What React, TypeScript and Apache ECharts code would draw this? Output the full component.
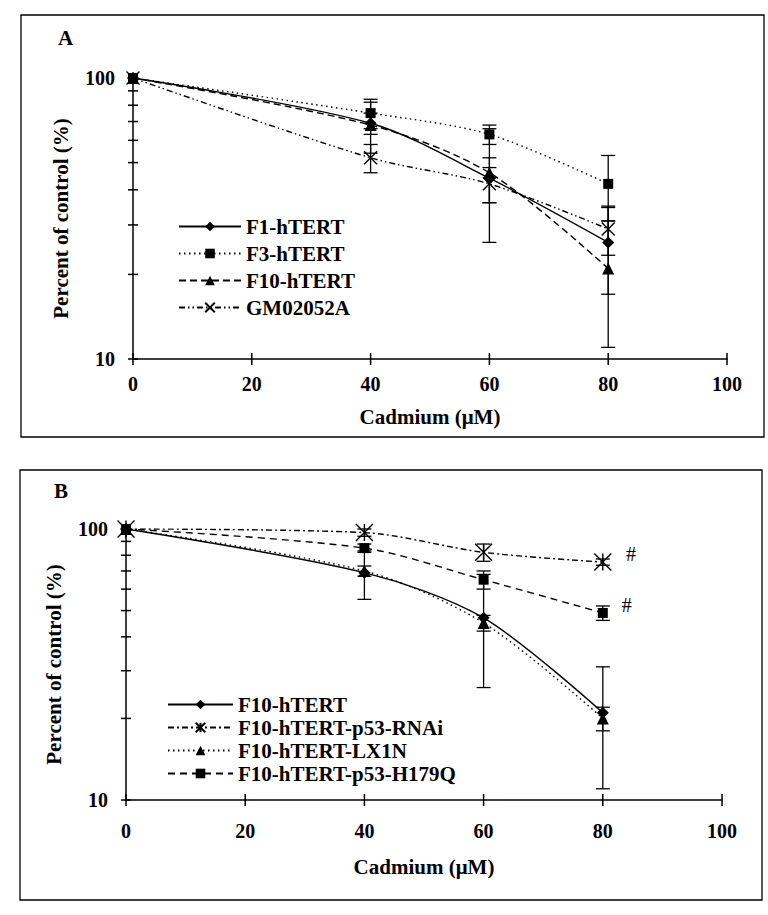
import React, { useEffect, useRef } from "react";
import * as echarts from "echarts";

const FONT = '"Liberation Serif", "Times New Roman", serif';

// Shared x positions (Cadmium, µM)
const doseX = [0, 40, 60, 80];
const xTicks = [0, 20, 40, 60, 80, 100];
const yTicks = [10, 20, 30, 40, 50, 60, 70, 80, 90, 100];

// Panel A
const namesA = ["F1-hTERT", "F3-hTERT", "F10-hTERT", "GM02052A"];
const f1A = [100, 69, 44, 26];
const f3A = [100, 75, 63, 42];
const f10A = [100, 68, 46, 21];
const gmA = [100, 52, 42, 29];
const errF1A = [0, 6, 8, 9];
const errF3A = [0, 9, 5, 11];
const errF10A = [0, 14, 20, 10];
const errGmA = [0, 6, 6, 5.6];

// Panel B
const namesB = ["F10-hTERT", "F10-hTERT-p53-RNAi", "F10-hTERT-LX1N", "F10-hTERT-p53-H179Q"];
const f10B = [100, 69, 47, 21];
const rnaiB = [100, 97, 82, 75.5];
const lx1nB = [100, 70, 45, 20];
const h179qB = [100, 85, 65, 49];
const errF10B = [0, 14, 21, 10];
const errRnaiB = [0, 3, 6, 2];
const errLx1nB = [0, 3, 3, 2];
const errH179qB = [0, 3, 5, 3];

const X_SYMBOL = "path://M0,0L10,10M10,0L0,10";
const STAR_SYMBOL = "path://M5,0L5,10M0,0L10,10M10,0L0,10";

const BLK = "#000";

function errRender(params: any, api: any) {
  const x = api.value(0);
  const y = api.value(1);
  const e = api.value(2);
  if (!e) return { type: "group", children: [] };
  const p1 = api.coord([x, y + e]);
  const p2 = api.coord([x, y - e]);
  const w = 7;
  const st = { stroke: BLK, lineWidth: 1.3 };
  return {
    type: "group",
    children: [
      { type: "line", shape: { x1: p1[0], y1: p1[1], x2: p2[0], y2: p2[1] }, style: st },
      { type: "line", shape: { x1: p1[0] - w, y1: p1[1], x2: p1[0] + w, y2: p1[1] }, style: st },
      { type: "line", shape: { x1: p2[0] - w, y1: p2[1], x2: p2[0] + w, y2: p2[1] }, style: st },
    ],
  };
}

function yTickRender(params: any, api: any) {
  const p = api.coord([0, api.value(1)]);
  return {
    type: "line",
    shape: { x1: p[0] - 5, y1: p[1], x2: p[0] + 5, y2: p[1] },
    style: { stroke: BLK, lineWidth: 1.5 },
  };
}

function xTickRender(params: any, api: any) {
  const p = api.coord([api.value(0), 10]);
  return {
    type: "line",
    shape: { x1: p[0], y1: p[1] - 6, x2: p[0], y2: p[1] + 6 },
    style: { stroke: BLK, lineWidth: 1.5 },
  };
}

function lineSeries(
  name: string,
  vals: number[],
  idx: number,
  symbol: string,
  symbolSize: number,
  dash: any,
  hashLast = false
) {
  return {
    type: "line",
    name,
    xAxisIndex: idx,
    yAxisIndex: idx,
    smooth: 0.3,
    symbol,
    symbolSize,
    z: 4,
    lineStyle: { color: BLK, width: 1.4, type: dash },
    itemStyle: { color: BLK, borderColor: BLK, borderWidth: symbol.startsWith("path") ? 1.4 : 0 },
    data: doseX.map((x, i) => {
      if (hashLast && i === doseX.length - 1) {
        return {
          value: [x, vals[i]],
          label: {
            show: true,
            formatter: "#",
            position: "right",
            distance: 14,
            offset: [0, -8],
            fontFamily: FONT,
            fontSize: 20,
            color: "#000000",
            textBorderWidth: 0,
          },
        };
      }
      return [x, vals[i]];
    }),
  };
}

function errSeries(vals: number[], errs: number[], idx: number) {
  return {
    type: "custom",
    xAxisIndex: idx,
    yAxisIndex: idx,
    z: 2,
    silent: true,
    renderItem: errRender,
    data: doseX.map((x, i) => [x, vals[i], errs[i]]),
  };
}

function tickSeries(idx: number) {
  return [
    {
      type: "custom",
      xAxisIndex: idx,
      yAxisIndex: idx,
      z: 1,
      silent: true,
      renderItem: yTickRender,
      data: yTicks.map((v) => [0, v]),
    },
    {
      type: "custom",
      xAxisIndex: idx,
      yAxisIndex: idx,
      z: 1,
      silent: true,
      renderItem: xTickRender,
      data: xTicks.map((v) => [v, 10]),
    },
  ];
}

const textBold = { fontFamily: FONT, fontWeight: "bold" as const, color: BLK };

function xAxisCfg(idx: number, labelMargin: number, nameGap: number) {
  return {
    type: "value",
    gridIndex: idx,
    min: 0,
    max: 100,
    interval: 20,
    axisLine: { show: true, lineStyle: { color: BLK, width: 1.5 } },
    axisTick: { show: false },
    splitLine: { show: false },
    axisLabel: { ...textBold, fontSize: 20, margin: labelMargin },
    name: "Cadmium (\u03bcM)",
    nameLocation: "middle",
    nameGap,
    nameTextStyle: { ...textBold, fontSize: 21 },
  };
}

function yAxisCfg(idx: number) {
  return {
    type: "log",
    logBase: 10,
    gridIndex: idx,
    min: 10,
    max: 100,
    axisLine: { show: true, lineStyle: { color: BLK, width: 1.5 } },
    axisTick: { show: false },
    minorTick: { show: false },
    splitLine: { show: false },
    minorSplitLine: { show: false },
    axisLabel: { ...textBold, fontSize: 20, margin: 18 },
    name: "Percent of control (%)",
    nameLocation: "middle",
    nameGap: 62,
    nameRotate: 90,
    nameTextStyle: { ...textBold, fontSize: 21 },
  };
}

export default function App() {
  const ref = useRef<HTMLDivElement>(null);
  useEffect(() => {
    if (!ref.current) return;
    const chart = echarts.init(ref.current, undefined, { renderer: "svg" });
    const option: any = {
      animation: false,
      backgroundColor: "#fff",
      grid: [
        { left: 133, top: 78, width: 594, height: 281, outerBoundsMode: "none", containLabel: false },
        { left: 126, top: 529, width: 596, height: 271, outerBoundsMode: "none", containLabel: false },
      ],
      xAxis: [xAxisCfg(0, 15, 47), xAxisCfg(1, 21, 56)],
      yAxis: [yAxisCfg(0), yAxisCfg(1)],
      legend: [
        {
          orient: "vertical",
          left: 178,
          top: 216,
          padding: 0,
          itemWidth: 62,
          itemHeight: 12,
          itemGap: 6,
          selectedMode: false,
          data: namesA.map((n) => "A:" + n),
          formatter: (n: string) => n.slice(2),
          textStyle: { ...textBold, fontSize: 21 },
        },
        {
          orient: "vertical",
          left: 167,
          top: 694,
          padding: 0,
          itemWidth: 65,
          itemHeight: 12,
          itemGap: 2,
          selectedMode: false,
          data: namesB.map((n) => "B:" + n),
          formatter: (n: string) => n.slice(2),
          textStyle: { ...textBold, fontSize: 21 },
        },
      ],
      graphic: [
        { type: "rect", shape: { x: 21, y: 15, width: 743, height: 422 }, style: { fill: "none", stroke: BLK, lineWidth: 1.3 } },
        { type: "rect", shape: { x: 20, y: 470, width: 742, height: 430 }, style: { fill: "none", stroke: BLK, lineWidth: 1.3 } },
        { type: "text", x: 58, y: 27, style: { text: "A", font: `bold 21px ${FONT}`, fill: BLK } },
        { type: "text", x: 54, y: 480, style: { text: "B", font: `bold 21px ${FONT}`, fill: BLK } },
      ],
      series: [
        ...tickSeries(0),
        ...tickSeries(1),
        errSeries(f1A, errF1A, 0),
        errSeries(f3A, errF3A, 0),
        errSeries(f10A, errF10A, 0),
        errSeries(gmA, errGmA, 0),
        lineSeries("A:" + namesA[0], f1A, 0, "diamond", 12, "solid"),
        lineSeries("A:" + namesA[1], f3A, 0, "rect", 10, [1.5, 3.5]),
        lineSeries("A:" + namesA[2], f10A, 0, "triangle", 12, [7, 4]),
        lineSeries("A:" + namesA[3], gmA, 0, X_SYMBOL, 13, [6, 3, 1.5, 3, 1.5, 3]),
        errSeries(f10B, errF10B, 1),
        errSeries(rnaiB, errRnaiB, 1),
        errSeries(lx1nB, errLx1nB, 1),
        errSeries(h179qB, errH179qB, 1),
        lineSeries("B:" + namesB[0], f10B, 1, "diamond", 12, "solid"),
        lineSeries("B:" + namesB[1], rnaiB, 1, STAR_SYMBOL, 17, [6, 3, 2, 3], true),
        lineSeries("B:" + namesB[2], lx1nB, 1, "triangle", 12, [1.5, 3.5]),
        lineSeries("B:" + namesB[3], h179qB, 1, "rect", 10, [7, 5], true),
      ],
    };
    chart.setOption(option);
    return () => chart.dispose();
  }, []);
  return (
    <div
      ref={ref}
      style={{ position: "absolute", left: 0, top: 0, width: 768, height: 915, background: "#fff" }}
    />
  );
}
